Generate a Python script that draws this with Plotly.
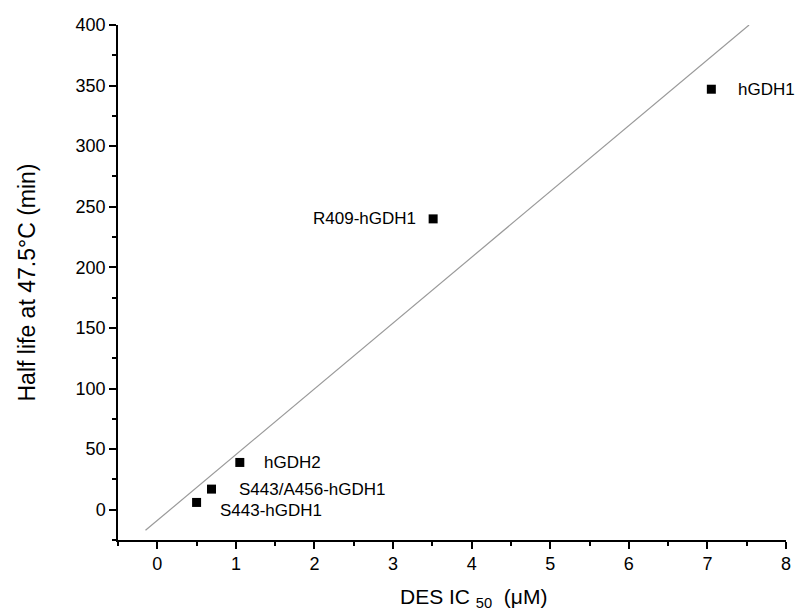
import plotly.graph_objects as go

# Enzyme variants: DES IC50 (µM) vs half life at 47.5 °C (min)
variants = ["hGDH1", "R409-hGDH1", "hGDH2", "S443/A456-hGDH1", "S443-hGDH1"]
ic50 = [7.05, 3.51, 1.05, 0.69, 0.50]
half_life = [347, 240, 39, 17, 6]

# Label placement per variant (pixel offsets from the marker)
label_anchor = ["left", "right", "left", "left", "left"]
label_dx = [25, -15, 22, 25, 21]
label_dy = [0, 0, 0, 0, -8]

# Linear trend line endpoints
fit_x = [-0.15, 7.53]
fit_y = [-17, 400]

font = "Liberation Sans, Arial, sans-serif"

fig = go.Figure()
fig.add_trace(go.Scatter(
    x=fit_x, y=fit_y, mode="lines",
    line=dict(color="#9a9a9a", width=1.2),
    hoverinfo="skip", showlegend=False,
))
fig.add_trace(go.Scatter(
    x=ic50, y=half_life, mode="markers",
    marker=dict(symbol="square", size=9, color="black"),
    text=variants, showlegend=False,
))

for name, x, y, anc, dx, dy in zip(variants, ic50, half_life, label_anchor, label_dx, label_dy):
    fig.add_annotation(
        x=x, y=y, text=name, showarrow=False,
        xanchor=anc, yanchor="middle", xshift=dx, yshift=dy,
        font=dict(family=font, size=17, color="black"),
    )

# X-axis title placed as a paper-anchored annotation (slightly right of centre)
fig.add_annotation(
    xref="paper", yref="paper", x=0.532, y=-0.113,
    xanchor="center", yanchor="middle", showarrow=False,
    text="DES IC <sub>50</sub>  (μM)",
    font=dict(family=font, size=21, color="black"),
)

axis_common = dict(
    showline=True, linecolor="black", linewidth=1.5,
    ticks="outside", ticklen=7, tickwidth=1.5, tickcolor="black",
    showgrid=False, zeroline=False,
    tickfont=dict(family=font, size=18, color="black"),
    mirror=False,
)

fig.update_xaxes(
    range=[-0.5, 8], tick0=0, dtick=1,
    minor=dict(dtick=0.5, tick0=0, ticks="outside", ticklen=4, tickwidth=1.5, tickcolor="black"),
    **axis_common,
)
fig.update_yaxes(
    range=[-25, 400], tick0=0, dtick=50,
    minor=dict(dtick=25, tick0=0, ticks="outside", ticklen=4, tickwidth=1.5, tickcolor="black"),
    title=dict(text="Half life at 47.5°C (min)", font=dict(family=font, size=23, color="black"), standoff=34),
    **axis_common,
)

fig.update_layout(
    width=797, height=613,
    margin=dict(l=118, r=6, t=25, b=73),
    plot_bgcolor="white", paper_bgcolor="white",
    showlegend=False,
)

fig.write_html("out.html")
